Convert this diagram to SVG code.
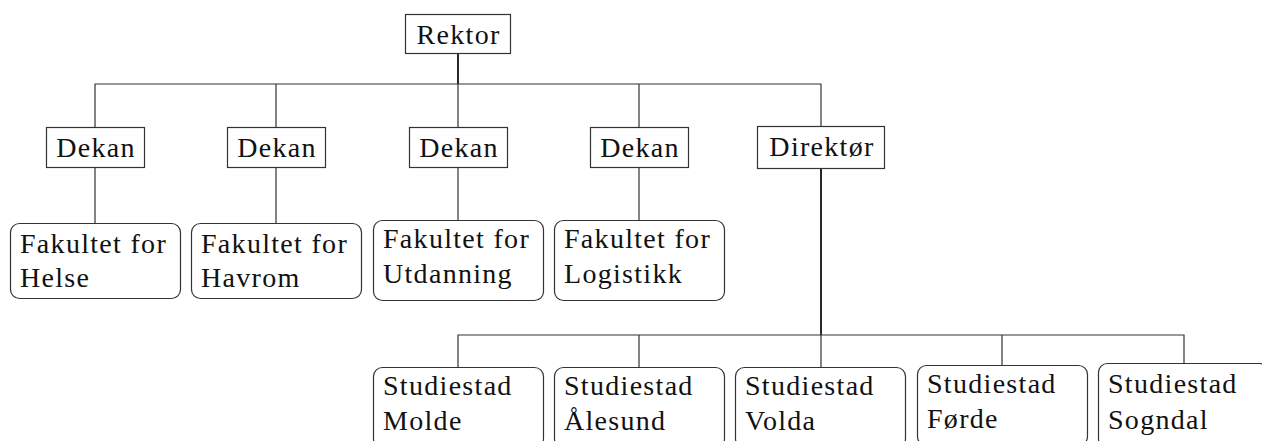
<svg xmlns="http://www.w3.org/2000/svg" width="1262" height="441" viewBox="0 0 1262 441">
<style>
text{font-family:"Liberation Serif","Times New Roman",serif;font-size:28px;letter-spacing:1.3px;fill:#111}
.c{text-anchor:middle}
.box{fill:#fff;stroke:#333;stroke-width:1.2}
.rbox{fill:#fff;stroke:#333;stroke-width:1.2}
.ln{fill:none;stroke:#333;stroke-width:1.2}
.th{fill:none;stroke:#111;stroke-width:1.8}
</style>
<rect width="1262" height="441" fill="#fff"/>
<g id="connectors">
<path class="th" d="M458 53V84"/>
<path class="ln" d="M94.5 84H821.5M95 84V127M276 84V127M458 84V127M639 84V127M821 84V126"/>
<path class="ln" d="M95 167V223M276 167V223M458 167V220M639 167V220"/>
<path class="th" d="M821 168V335"/>
<path class="ln" d="M457.5 335H1184.5M458 335V367M639 335V367M821 335V367M1002 335V365M1184 335V363"/>
</g>
<g id="rektor"><rect class="box" x="405.5" y="14.5" width="105" height="39"/><text class="c" x="458.6" y="44">Rektor</text></g>
<g id="dekan1"><rect class="box" x="46.5" y="127.5" width="98" height="40"/><text class="c" x="96" y="157">Dekan</text></g>
<g id="dekan2"><rect class="box" x="227.5" y="127.5" width="98" height="40"/><text class="c" x="277" y="157">Dekan</text></g>
<g id="dekan3"><rect class="box" x="409.5" y="127.5" width="98" height="40"/><text class="c" x="459" y="157">Dekan</text></g>
<g id="dekan4"><rect class="box" x="590.5" y="127.5" width="98" height="40"/><text class="c" x="640" y="157">Dekan</text></g>
<g id="direktor"><rect class="box" x="757.5" y="126.5" width="127" height="42"/><text class="c" x="822" y="156">Direktør</text></g>
<g id="helse"><rect class="rbox" x="10.5" y="223.5" width="170" height="75" rx="9"/><text x="20" y="253">Fakultet for</text><text x="20" y="287">Helse</text></g>
<g id="havrom"><rect class="rbox" x="191.5" y="223.5" width="170" height="75" rx="9"/><text x="201" y="253">Fakultet for</text><text x="201" y="287">Havrom</text></g>
<g id="utdanning"><rect class="rbox" x="373.5" y="220.5" width="170" height="80" rx="9"/><text x="383" y="248">Fakultet for</text><text x="383" y="283">Utdanning</text></g>
<g id="logistikk"><rect class="rbox" x="554.5" y="220.5" width="170" height="80" rx="9"/><text x="564" y="248">Fakultet for</text><text x="564" y="283">Logistikk</text></g>
<g id="molde"><rect class="rbox" x="373.5" y="367.5" width="170" height="80" rx="9"/><text x="383" y="395">Studiestad</text><text x="383" y="430">Molde</text></g>
<g id="alesund"><rect class="rbox" x="554.5" y="367.5" width="170" height="80" rx="9"/><text x="564" y="395">Studiestad</text><text x="564" y="430">Ålesund</text></g>
<g id="volda"><rect class="rbox" x="735.5" y="367.5" width="170" height="80" rx="9"/><text x="745" y="395">Studiestad</text><text x="745" y="430">Volda</text></g>
<g id="forde"><rect class="rbox" x="917.5" y="365.5" width="170" height="80" rx="9"/><text x="927" y="393">Studiestad</text><text x="927" y="428">Førde</text></g>
<g id="sogndal"><rect class="rbox" x="1098.5" y="363.5" width="170" height="84" rx="9"/><text x="1108" y="393">Studiestad</text><text x="1108" y="429">Sogndal</text></g>
</svg>
